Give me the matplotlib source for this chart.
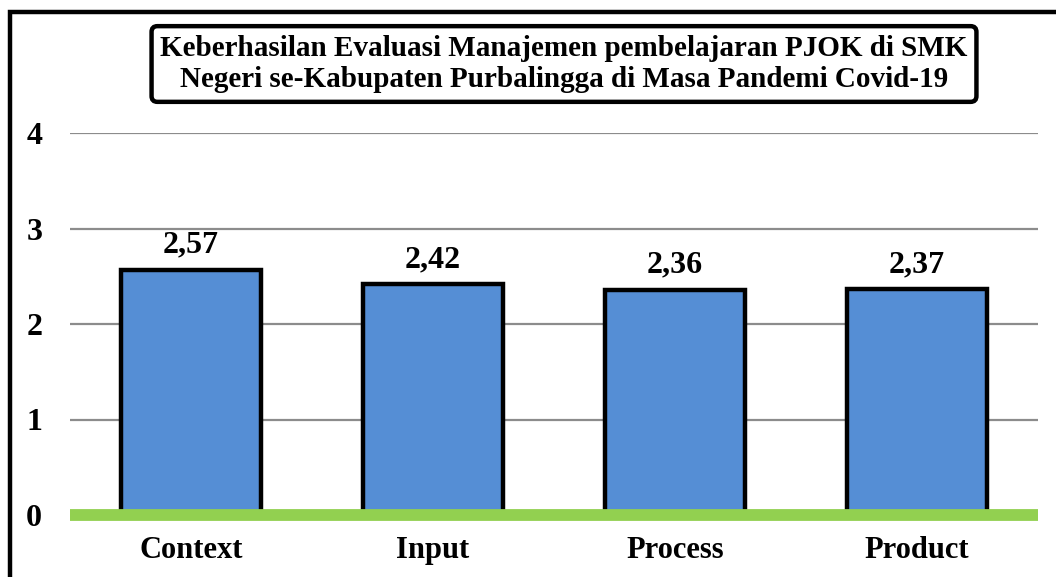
import matplotlib
matplotlib.use('Agg')
import matplotlib.pyplot as plt
from matplotlib.patches import Rectangle

# data
categories = ['Context', 'Input', 'Process', 'Product']
scores = [2.57, 2.42, 2.36, 2.37]
score_labels = ['2,57', '2,42', '2,36', '2,37']
y_ticks = [0, 1, 2, 3, 4]

title = ('Keberhasilan Evaluasi Manajemen pembelajaran PJOK di SMK\n'
         'Negeri se-Kabupaten Purbalingga di Masa Pandemi Covid-19')

plt.rcParams['font.family'] = ['Liberation Serif', 'DejaVu Serif']
plt.rcParams['font.weight'] = 'bold'

W, H = 1056, 577
fig = plt.figure(figsize=(W / 100, H / 100), dpi=100)
ax = fig.add_axes([70 / W, 62 / H, (1038 - 70) / W, (515 - 133) / H])

x = range(len(categories))
ax.bar(x, scores, width=0.58, color='#558ed5', edgecolor='black',
       linewidth=3.2, zorder=3)

for i, (v, lab) in enumerate(zip(scores, score_labels)):
    ax.annotate(lab, (i, v), xytext=(0, 7), textcoords='offset points',
                ha='center', va='bottom', fontsize=23, fontweight='bold')

# green base line
ax.axhline(0, color='#92d050', linewidth=8.5, zorder=4, clip_on=False,
           solid_capstyle='butt')

ax.set_xlim(-0.5, 3.5)
ax.set_ylim(0, 4)
ax.set_yticks(y_ticks)
ax.set_yticklabels([str(t) for t in y_ticks], fontsize=23, fontweight='bold')
ax.set_xticks(list(x))
ax.set_xticklabels(categories, fontsize=22, fontweight='bold')
ax.tick_params(axis='y', length=0, pad=20)
ax.tick_params(axis='x', length=0, pad=15)
ax.yaxis.grid(True, color='#8c8c8c', linewidth=1.6, zorder=0)
ax.set_axisbelow(True)
for s in ax.spines.values():
    s.set_visible(False)

# outer frame (right and bottom run off the picture)
fig.patches.append(Rectangle((10 / W, -0.1), 1.2, (H - 12) / H + 0.1,
                             transform=fig.transFigure, fill=False,
                             edgecolor='black', linewidth=3.2))

fig.text(564 / W, 1 - 64 / H, title, ha='center', va='center',
         fontsize=21, fontweight='bold', linespacing=1.2,
         bbox=dict(boxstyle='round,pad=0.3,rounding_size=0.2',
                   facecolor='white', edgecolor='black', linewidth=3.2))

fig.savefig('out.png', dpi=100)
